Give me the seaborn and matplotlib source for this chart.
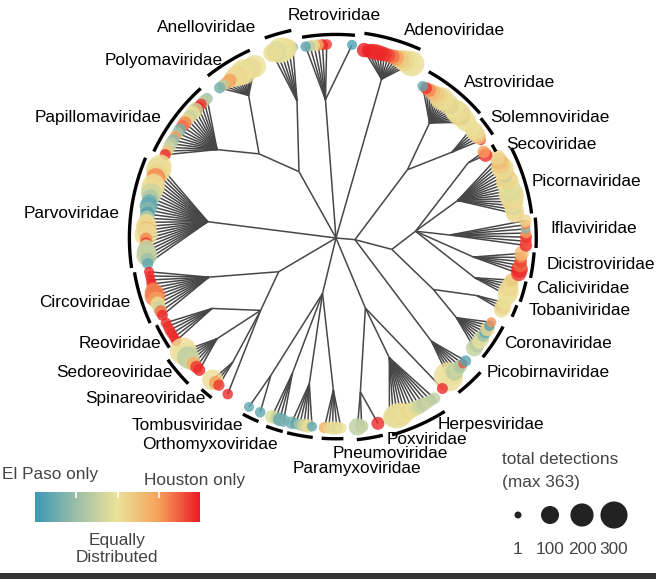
import numpy as np
import pandas as pd
import seaborn as sns
import matplotlib.pyplot as plt
from matplotlib.colors import LinearSegmentedColormap
from matplotlib.collections import LineCollection
from matplotlib.patches import Rectangle

# virus families, in order round the tree (counter-clockwise from lower right)
families = ["Picobirnaviridae", "Coronaviridae", "Tobaniviridae", "Caliciviridae",
            "Dicistroviridae", "Iflaviviridae", "Picornaviridae", "Secoviridae",
            "Solemnoviridae", "Astroviridae", "Adenoviridae", "Retroviridae",
            "Anelloviridae", "Polyomaviridae", "Papillomaviridae", "Parvoviridae",
            "Circoviridae", "Reoviridae", "Sedoreoviridae", "Spinareoviridae", "_a",
            "Tombusviridae", "Orthomyxoviridae", "Paramyxoviridae", "Pneumoviridae",
            "Poxviridae", "Herpesviridae", "_b"]

# empty tip slots before each family
gap_before = [0, 3, 3, 1, 1, 1, 1, 1, 2, 1, 4, 2, 2, 4, 3, 2, 1, 1, 2, 3, 2, 5, 2, 1, 2, 3, 2, 2]

# -1 = El Paso only, 0 = equally distributed, +1 = Houston only (None = empty slot)
tip_balance = [
    [0.05, 0.0, -0.3, -0.2, -0.4, 0.8, -0.85],
    [-0.25, -0.3, 0.0, -0.1, -0.5, -0.8, 0.1, -0.9, 0.55],
    [0.05, 0.1, 0.0],
    [0.05, 0.0, 0.1, 0.05, 0.2],
    [0.9, 0.95, 0.7, 0.85, 0.6, 0.3],
    [0.95, 0.8, 0.9, 0.5, -0.6, 0.6, 0.1],
    [0.1, 0.05, -0.2, 0.0, 0.1, 0.05, -0.1, -0.5, 0.0, 0.1, -0.4, 0.15, 0.05, 0.2, 0.3, 0.1],
    [0.95, 0.5],
    [0.95, 0.3, 0.1, 0.05, 0.0],
    [0.05, 0.0, -0.15, 0.1, 0.05, 0.0, -0.2, 0.1, 0.0, 0.05, 0.1, 0.2, 0.3, 0.6, 0.9, -0.8],
    [0.05, 0.0, 0.1, 0.2, 0.5, 0.7, 0.85, 0.9, 0.95, 0.95, 0.95, 0.95, 0.98],
    [-0.9, None, None, None, None, None, 0.9, 0.95, 0.45, 0.0, -0.3, -0.85],
    [-0.9, 0.0, 0.05, 0.0, -0.1, 0.05],
    [0.0, 0.05, -0.1, 0.05, 0.0, 0.1, 0.05, 0.5, 0.4, -0.3, -0.7],
    [-0.5, -0.3, 0.9, 0.95, -0.2, 0.0, -0.25, 0.1, 0.6, 0.7, -0.7, -0.4, 0.5, -0.6, -0.3, -0.2, 0.2, 0.95],
    [0.0, 0.05, 0.1, 0.6, 0.4, 0.0, 0.05, -0.2, -0.4, -0.7, -0.8, -0.6, -0.9, -0.3, 0.0,
     0.1, 0.3, 0.05, 0.6, 0.9, -0.1, -0.3, -0.25, -0.5, -0.8],
    [0.95, 0.9, 0.95, 0.95, 0.8, 0.6, 0.65, 0.5, 0.0, -0.2, 0.7, 0.95],
    [0.95, 0.95, 0.9, 0.95, 0.95, 0.95],
    [0.05, 0.0, -0.3, -0.2, 0.4, 0.9, 0.95],
    [0.05, 0.5, 0.9],
    [0.95],
    [-0.8, None, None, -0.8],
    [-0.1, -0.2, -0.8, -0.7],
    [-0.7, -0.8, -0.4, -0.2, 0.05, -0.8],
    [0.4, 0.1, 0.05, -0.1, 0.0],
    [-0.3, -0.25, None, None, None, 0.95],
    [-0.1, 0.0, -0.05, 0.05, 0.0, 0.1, 0.0, -0.1, -0.2, -0.3, -0.2, -0.25, -0.3],
    [0.95],
]

# total detections per tip
tip_detections = [
    [363, 150, 90, 50, 40, 8, 20],
    [80, 60, 40, 70, 30, 25, 50, 15, 12],
    [60, 80, 40],
    [120, 150, 90, 70, 40],
    [60, 80, 40, 30, 20, 50],
    [30, 20, 25, 15, 10, 10, 30],
    [100, 120, 80, 150, 200, 250, 180, 30, 200, 150, 40, 120, 180, 100, 80, 60],
    [40, 30],
    [10, 50, 80, 100, 60],
    [120, 150, 90, 200, 180, 120, 60, 150, 100, 200, 120, 80, 60, 40, 25, 15],
    [250, 200, 150, 100, 60, 50, 40, 50, 60, 70, 60, 40, 50],
    [12, None, None, None, None, None, 15, 18, 20, 22, 20, 14],
    [12, 80, 200, 250, 150, 100],
    [180, 150, 120, 250, 200, 150, 100, 40, 30, 25, 20],
    [20, 30, 20, 25, 60, 50, 40, 35, 40, 30, 30, 25, 20, 25, 35, 30, 25, 20],
    [200, 250, 150, 120, 100, 200, 180, 150, 80, 60, 100, 70, 50, 60, 80,
     150, 100, 200, 30, 20, 60, 120, 150, 40, 20],
    [12, 10, 10, 14, 20, 100, 150, 80, 50, 40, 30, 18],
    [15, 12, 18, 14, 12, 15],
    [300, 200, 180, 100, 50, 30, 25],
    [150, 40, 20],
    [15],
    [12, None, None, 15],
    [40, 25, 40, 30],
    [30, 20, 25, 35, 40, 12],
    [20, 25, 40, 30, 20],
    [90, 40, None, None, None, 35],
    [20, 150, 250, 200, 100, 80, 60, 60, 50, 40, 30, 20, 25],
    [18],
]

# distance of each family's tips from the root (branch length)
tip_depth = [0.94, 0.93, 0.95, 0.95, 0.98, 1.0, 0.95, 0.9, 0.92, 0.92, 1.0, 1.02,
             1.03, 1.0, 1.0, 1.0, 1.0, 1.0, 1.0, 0.99, 1.0, 1.0, 1.0, 1.0,
             1.0, 1.0, 0.99, 0.97]

# radius of each family's fan node
fan_depth = [0.74, 0.76, 0.8, 0.76, 0.73, 0.6, 0.67, 0.8, 0.76, 0.78, 0.87, 0.73,
             0.75, 0.88, 0.78, 0.68, 0.7, 0.75, 0.82, 0.85, 1.0, 0.8, 0.75, 0.78,
             0.8, 0.82, 0.69, 1.0]

# higher-level grouping: [name, radius, children]
tree = ["root", 0.0, [
    ["right", 0.10, [
        "Picobirnaviridae",
        ["plus", 0.30, [
            ["nido", 0.58, ["Coronaviridae", "Tobaniviridae"]],
            ["picornavirales", 0.42, ["Caliciviridae", "Dicistroviridae", "Iflaviviridae",
                                      "Picornaviridae", "Secoviridae"]],
        ]],
        ["astro", 0.52, ["Solemnoviridae", "Astroviridae"]],
    ]],
    "Adenoviridae", "Retroviridae",
    ["topleft", 0.40, ["Anelloviridae", ["polypap", 0.6, ["Polyomaviridae", "Papillomaviridae"]]]],
    "Parvoviridae",
    ["lowleft", 0.35, ["Circoviridae", ["reo", 0.55, ["Reoviridae", "Sedoreoviridae",
                                                     "Spinareoviridae", "_a"]]]],
    ["bottom", 0.30, ["Tombusviridae", "Orthomyxoviridae", "Paramyxoviridae", "Pneumoviridae"]],
    ["bottomright", 0.40, ["Poxviridae", "Herpesviridae", "_b"]],
]]

legend_values = [1, 100, 200, 300]

# ---------------- layout ----------------
W, H = 656, 579
CX, CY, R = 336, 238, 190
START = 309.0
FS = 12.4
n_slots = sum(gap_before) + sum(len(b) for b in tip_balance) + 2
step = 360.0 / n_slots

# label anchors in pixels: x, baseline y, alignment
label_pos = {
    "Anelloviridae": (256, 32, "right"), "Retroviridae": (334, 20, "center"),
    "Adenoviridae": (404, 35, "left"), "Polyomaviridae": (223, 65, "right"),
    "Astroviridae": (464, 87, "left"), "Papillomaviridae": (162, 122, "right"),
    "Solemnoviridae": (490, 122, "left"), "Secoviridae": (506, 149, "left"),
    "Picornaviridae": (532, 186, "left"), "Parvoviridae": (120, 218, "right"),
    "Iflaviviridae": (550, 233, "left"), "Dicistroviridae": (547, 269, "left"),
    "Caliciviridae": (536, 293, "left"), "Circoviridae": (130, 307, "right"),
    "Tobaniviridae": (529, 315, "left"), "Reoviridae": (161, 348, "right"),
    "Coronaviridae": (504, 348, "left"), "Sedoreoviridae": (173, 377, "right"),
    "Picobirnaviridae": (487, 377, "left"), "Spinareoviridae": (206, 403, "right"),
    "Tombusviridae": (243, 430, "right"), "Herpesviridae": (438, 429, "left"),
    "Orthomyxoviridae": (278, 449, "right"), "Poxviridae": (387, 444, "left"),
    "Pneumoviridae": (333, 458, "left"), "Paramyxoviridae": (293, 473, "left"),
}


def polar(a, r):
    return r * np.cos(np.radians(a)), r * np.sin(np.radians(a))


def diameter_px(n):
    return 7 + 1.23 * (np.sqrt(n) - 1)


def to_data(x, y):
    return (x - CX) / R, (CY - y) / R


rows = []
fam_angles = {}
p = 0
for fam, gap, bal, det, dep in zip(families, gap_before, tip_balance, tip_detections, tip_depth):
    p += gap
    angs = []
    for b, d in zip(bal, det):
        a = START + p * step
        p += 1
        if b is None:
            continue
        rows.append(dict(family=fam, angle=a, depth=dep, balance=b, detections=d))
        angs.append(a)
    fam_angles[fam] = angs

tips = pd.DataFrame(rows)
tips["x"], tips["y"] = polar(tips["angle"].values, tips["depth"].values)
tips["s"] = (diameter_px(tips["detections"]) * 0.72) ** 2

segments = []


def place(node):
    if isinstance(node, str):
        i = families.index(node)
        angs = fam_angles[node]
        if len(angs) == 1:
            return angs[0], tip_depth[i]
        a = np.mean(angs)
        r = fan_depth[i]
        for t in angs:
            segments.append([polar(a, r), polar(t, tip_depth[i])])
        return a, r
    name, r, kids = node
    placed = [place(k) for k in kids]
    a = np.mean([k[0] for k in placed])
    for ka, kr in placed:
        segments.append([polar(a, r), polar(ka, kr)])
    return a, r


place(tree)

cmap = LinearSegmentedColormap.from_list(
    "balance", [(0, "#3a99b6"), (0.25, "#9dbfa8"), (0.5, "#ebe39a"),
                (0.75, "#f6a15b"), (1, "#ec1c24")])

sns.set_style("white")
plt.rcParams["font.family"] = ["Liberation Sans", "DejaVu Sans"]

fig = plt.figure(figsize=(W / 100, H / 100), dpi=100)
ax = fig.add_axes([0, 0, 1, 1])
ax.set_xlim(-CX / R, (W - CX) / R)
ax.set_ylim((CY - H) / R, CY / R)
ax.axis("off")

ax.add_collection(LineCollection(segments, colors="#474747", linewidths=1.1, zorder=1))

sns.scatterplot(data=tips, x="x", y="y", hue="balance", palette=cmap, hue_norm=(-1, 1),
                s=tips["s"].values, alpha=0.8, linewidth=0, legend=False, ax=ax, zorder=2)

# family arcs and labels
for i, fam in enumerate(families):
    if fam.startswith("_"):
        continue
    angs = fam_angles[fam]
    dmax = diameter_px(tips.loc[tips.family == fam, "detections"].max())
    r_arc = tip_depth[i] + (dmax / 2 + 4) / R
    t = np.linspace(min(angs) - 0.6, max(angs) + 0.6, 40)
    ax.plot(*polar(t, r_arc), color="black", lw=2.4, solid_capstyle="butt", zorder=3)
    lx, ly, ha = label_pos[fam]
    ax.text(*to_data(lx, ly), fam, ha=ha, va="baseline", fontsize=FS, color="black")


def fpos(x, y):
    return x / W, 1 - y / H


# colour bar
cax = fig.add_axes([35 / W, (H - 522) / H, 165 / W, 30 / H])
cax.imshow(np.linspace(0, 1, 256)[None, :], cmap=cmap, aspect="auto", extent=[0, 1, 0, 1])
cax.set_xticks([0.25, 0.5, 0.75])
cax.set_yticks([])
cax.tick_params(axis="x", direction="in", color="white", length=4, width=1.2,
                top=True, labelbottom=False)
for sp in cax.spines.values():
    sp.set_visible(False)

fig.text(*fpos(50, 474), "El Paso only", ha="center", va="center", fontsize=FS, color="#444444")
fig.text(*fpos(195, 481), "Houston only", ha="center", va="center", fontsize=FS, color="#444444")
fig.text(*fpos(117, 549), "Equally\nDistributed", ha="center", va="center", fontsize=FS,
         color="#444444", linespacing=1.25)

# size legend
lax = fig.add_axes([502 / W, (H - 531) / H, 128 / W, 32 / H])
leg = pd.DataFrame({"x": range(len(legend_values)), "y": 0.0, "n": legend_values})
sns.scatterplot(data=leg, x="x", y="y", s=(diameter_px(leg["n"]) * 0.72) ** 2,
                color="#222222", linewidth=0, legend=False, ax=lax)
lax.set_xlim(-0.5, len(legend_values) - 0.5)
lax.set_ylim(-1, 1)
lax.axis("off")
for i, v in enumerate(legend_values):
    fig.text(*fpos(518 + 32 * i, 549), str(v), ha="center", va="center", fontsize=FS, color="#444444")

fig.text(*fpos(502, 460), "total detections", ha="left", va="center", fontsize=FS, color="#444444")
fig.text(*fpos(502, 482), "(max 363)", ha="left", va="center", fontsize=FS, color="#444444")

fig.patches.append(Rectangle((0, 0), 1, 6 / H, transform=fig.transFigure,
                             facecolor="#333333", edgecolor="none"))

fig.savefig("out.png", dpi=100)
